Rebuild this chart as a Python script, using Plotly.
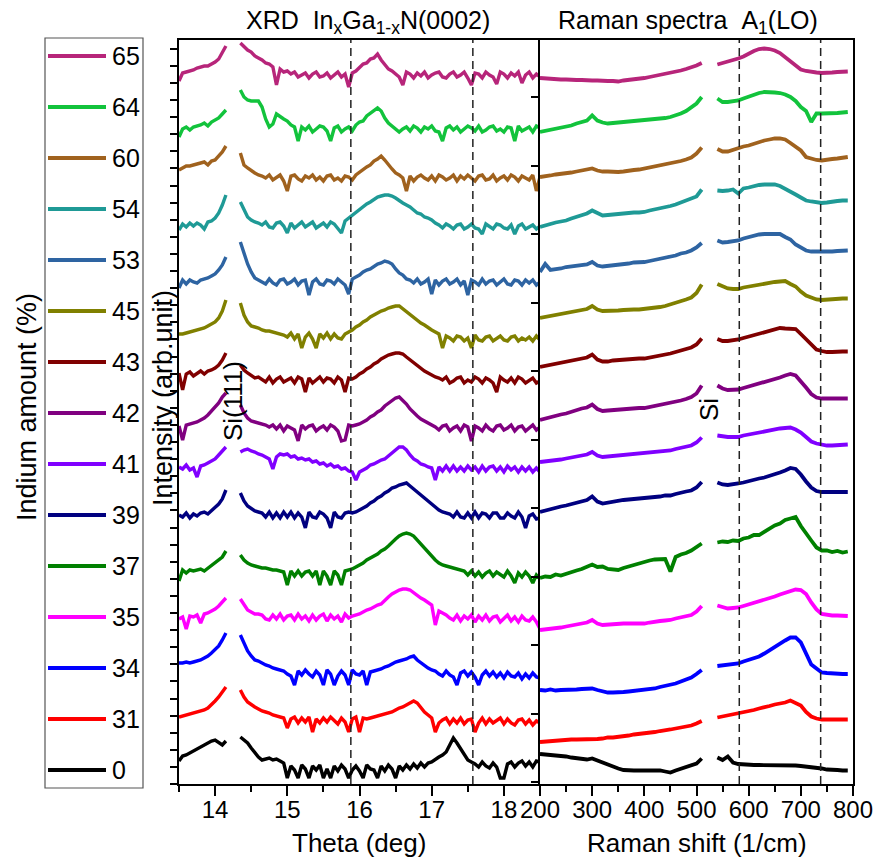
import numpy as np
import plotly.graph_objects as go

FONT = "Liberation Sans, Arial, Helvetica, sans-serif"
W, H = 888, 860

# Indium content of each sample (top to bottom) and its trace colour
indium = ["65", "64", "60", "54", "53", "45", "43", "42", "41", "39", "37", "35", "34", "31", "0"]
colors = ["#B7257A", "#12C33C", "#A0621E", "#1F9A96", "#2E64A2", "#808000", "#800000",
          "#800080", "#8000FF", "#000080", "#008000", "#FF00FF", "#0000FF", "#FF0000", "#000000"]

# Sampling positions: XRD theta (deg), split around the Si(111) substrate peak,
# and Raman shift (1/cm), split around the Si line at 520 1/cm
theta_low = np.round(np.arange(13.50, 14.151, 0.05), 2)
theta_high = np.round(np.arange(14.35, 18.501, 0.05), 2)
shift_low = np.arange(200, 511, 10)
shift_high = np.arange(540, 791, 10)

# Vertical stacking offsets (arb. unit)
xrd_offset = [709, 655, 606, 559, 502, 446, 404, 356, 317, 269, 211, 167, 111, 64, 19]
raman_offset = [706, 652, 607, 557, 512, 466, 417, 364, 322, 272, 206, 154, 94, 42, 30]

# ---------------- XRD intensities (relative to offset) ----------------
xrd_low_65 = [-6, 2, 3, 4, 5, 7, 8, 9, 9, 11, 13, 16, 22, 29]
xrd_high_65 = [32, 28, 25, 23, 19, 17, 15, 12, 11, 8,
               -10, 6, 3, 4, 1, 3, -2, 0, 2, -3,
               1, 3, -2, -1, 2, -3, 0, 3, -2, 1,
               -12, 2, 4, 7, 11, 12, 16, 17, 21, 15,
               11, 6, 4, 1, -2, -10, 3, 1, -3, 2,
               -1, 3, -3, 0, 2, 3, -2, -3, 1, 3,
               -2, 0, 3, -3, -10, 2, 1, -3, 3, 0,
               -2, -9, 3, 1, -3, 2, -1, 3, -8, 0,
               3, -3, 1, -2]

xrd_low_64 = [-8, 0, 2, -1, 2, 3, 4, 6, 3, 7, 9, 11, 15, 19]
xrd_high_64 = [39, 32, 29, 28, 28, 28, 22, 10, 2, 5,
               15, 12, 10, 8, 4, 2, -12, 2, -1, 3,
               -3, 0, 3, 2, -2, -12, 1, 3, -3, 0,
               2, -2, 4, 7, 8, 13, 16, 19, 21, 18,
               11, 6, 3, 1, -3, 0, 2, -2, 3, 1,
               -3, 2, 0, 3, -2, -3, -12, 1, 3, -1,
               2, -3, 0, 3, 1, -2, 3, -3, -1, 2,
               3, -2, 0, -3, 2, 1, -12, 3, -2, 0,
               2, -3, 3, 1]

xrd_low_60 = [8, 10, 12, 12, 13, 14, 15, 16, 13, 17, 18, 22, 26, 32]
xrd_high_60 = [25, 13, 10, 7, 5, 3, 2, 0, 3, -2,
               1, 3, -3, -13, 2, 3, -1, -3, 2, 0,
               3, -2, 1, -3, 2, 3, -2, 0, -3, 2,
               1, -2, 3, 6, 8, 11, 13, 17, 19, 22,
               18, 13, 9, 5, 3, 0, -13, 2, -3, 1,
               3, 0, -2, 2, -3, 3, 1, -2, 0, 3,
               -3, 2, -1, 3, 0, -3, 2, 3, -2, -1,
               3, -3, 0, 2, -2, 3, 1, -3, 2, 0,
               -2, 3, -13, 1]

xrd_low_54 = [-5, 1, -2, 2, -1, 2, 0, -4, 3, 4, 7, 12, 20, 30]
xrd_high_54 = [23, 15, 8, 5, 3, 2, 0, 3, -2, -3,
               2, 3, -1, -8, 2, -3, 0, 3, -2, 1,
               3, -3, 0, 2, -2, 3, 1, -3, -8, 4,
               7, 9, 12, 15, 18, 21, 23, 26, 28, 29,
               30, 30, 29, 27, 24, 22, 20, 18, 15, 12,
               11, 8, 7, 5, 2, 0, -3, 1, -1, -4,
               0, 1, -4, -2, 1, -3, -4, -9, 1, -2,
               -4, 1, 0, -3, -4, 0, -9, -1, 1, -4,
               -2, 0, -4, -1]

xrd_low_53 = [-6, 2, -2, 2, 0, -1, 2, 3, 4, 6, 8, 12, 17, 25]
xrd_high_53 = [40, 28, 18, 10, 4, 2, 0, -2, 3, -1,
               -3, 2, 3, -2, 0, 3, -3, 1, 2, -13,
               0, 3, -2, -3, 2, 1, -2, 3, 0, -3,
               -12, 3, 5, 7, 10, 12, 13, 16, 18, 19,
               21, 20, 18, 13, 9, 7, 3, 2, -1, 3,
               -2, 0, 3, -12, 2, -3, 1, 3, -2, 0,
               3, -3, 1, -13, 2, 0, -3, 3, -2, 1,
               2, -3, 0, 3, -2, -3, 2, 1, -3, 2,
               -1, 2, -3, 0]

xrd_low_45 = [4, 4, 5, 6, 7, 8, 9, 10, 12, 14, 16, 20, 27, 38]
xrd_high_45 = [35, 23, 16, 12, 11, 10, 8, 7, 7, 6,
               5, 4, 3, 1, 5, -1, 4, -10, 1, 5,
               -1, -10, 4, 0, 5, -1, 4, 0, -1, 4,
               6, 8, 11, 13, 16, 18, 21, 23, 25, 27,
               28, 30, 31, 32, 32, 29, 27, 23, 20, 17,
               15, 13, 10, 8, 6, 4, -10, 2, 0, -3,
               2, 1, -3, 0, -10, 3, -2, -3, 1, 2,
               -3, 0, 2, -2, -3, 1, 2, -3, 0, -2,
               1, -3, 2, -2]

xrd_low_43 = [7, -10, 6, 8, 4, 7, 9, 6, 9, 10, 12, 15, 20, 27]
xrd_high_43 = [15, 10, 7, 4, 2, 3, 0, -2, 3, -3,
               1, 3, -2, 0, 2, -3, 3, 1, -12, 2,
               -3, 0, 3, -2, 2, 1, -3, 3, 0, -12,
               2, 1, 3, 6, 8, 11, 13, 16, 18, 21,
               23, 25, 26, 27, 27, 26, 23, 20, 17, 14,
               12, 9, 7, 5, 3, 2, 0, 3, -3, -1,
               2, 3, -3, 0, -2, 3, 1, -3, 2, 0,
               -3, -12, 3, 0, -2, 2, -3, 3, 1, -3,
               0, 2, -3, -1]

xrd_low_42 = [2, -12, 3, 4, 5, 6, 8, 10, 13, 17, 20, 25, 31, 35]
xrd_high_42 = [23, 15, 10, 7, 6, 5, 4, 3, 1, 3,
               -1, 3, -3, 2, 0, -2, -13, 3, -1, 2,
               3, -3, 0, 2, -2, 3, 1, -3, -13, -12,
               3, 2, 3, 4, 6, 8, 11, 13, 16, 18,
               22, 25, 28, 30, 31, 28, 24, 19, 15, 12,
               9, 7, 5, 3, 1, -2, 2, 3, -3, 0,
               2, -3, 3, 1, -13, 2, 0, -3, 3, -1,
               -3, 2, 3, -2, 0, 3, -3, 1, 2, -3,
               0, 3, -2, 1]

xrd_low_41 = [0, -2, 2, -3, -1, -10, 1, 2, 4, 6, 8, 12, 16, 20]
xrd_high_41 = [15, 17, 18, 16, 15, 13, 12, 10, 8, -2,
               10, 13, 12, 13, 10, 11, 8, 9, 7, 8,
               5, 6, 3, 4, 1, 3, 0, 1, -2, -1,
               -4, -5, -13, -5, -3, -1, 2, 3, 5, 7,
               8, 11, 15, 18, 20, 20, 17, 12, 8, 6,
               3, 2, 0, -1, -13, 0, -4, 1, -4, 1,
               -4, 0, -4, 1, -3, 0, -5, 1, -4, 0,
               1, -4, 0, -5, 1, -3, 0, -5, 0, -4,
               0, -5, -1, -5]

xrd_low_39 = [0, -2, 2, -3, 1, -1, 2, 3, 1, 4, 7, 11, 16, 25]
xrd_high_39 = [22, 14, 9, 6, 4, 3, 2, -2, 3, -3,
               2, -3, 3, -2, 3, -3, 2, -2, -13, 3,
               -2, -3, 3, 1, -3, -13, 3, -2, -3, 2,
               3, 2, 3, 5, 7, 9, 12, 14, 17, 19,
               22, 24, 27, 28, 30, 31, 32, 29, 26, 23,
               19, 16, 13, 10, 7, 5, 3, 2, 1, -2,
               3, -2, -3, 2, -3, 3, -3, 2, 1, -3,
               2, 2, -3, -3, 2, -1, -3, 3, -2, -13,
               -1, 1, -4, -3]

xrd_low_37 = [-8, 3, 0, 3, 2, 3, 4, 2, 5, 7, 10, 13, 16, 22]
xrd_high_37 = [18, 13, 10, 8, 7, 6, 5, 5, 4, 3,
               3, 2, 1, -12, 2, -3, 2, -3, 1, 2,
               -3, 2, -12, 2, -3, -12, 2, -2, -12, 2,
               3, 4, 6, 8, 10, 13, 15, 17, 19, 22,
               24, 27, 31, 34, 37, 39, 40, 39, 37, 33,
               29, 25, 21, 16, 13, 10, 8, 7, 6, 5,
               4, 3, 2, -2, 2, -3, 1, -4, 0, 2,
               -3, 1, -2, -4, 2, -3, -10, 0, -4, 1,
               -3, -10, -2, -6]

xrd_low_35 = [-2, 0, -12, 1, 0, 2, -6, 3, 4, 6, 8, 11, 15, 19]
xrd_high_35 = [18, 12, 7, 5, 3, 3, 2, -2, -3, 2,
               -2, 3, -3, 1, 2, -3, 3, -2, 1, -4,
               2, -3, 1, 3, -4, 2, -2, 1, -5, 3,
               -1, 1, 2, 3, 5, 7, 8, 10, 12, 13,
               17, 20, 23, 25, 27, 28, 28, 27, 24, 22,
               19, 17, 14, 12, -8, 6, 4, 2, -1, -3,
               2, -4, 1, -2, 2, -5, 1, -3, 2, -4,
               0, 1, -5, -1, 2, -4, 0, -5, 1, -3,
               -4, 0, -5, -12]

xrd_low_34 = [10, 10, 11, 10, 11, 12, 13, 15, 17, 20, 23, 27, 33, 40]
xrd_high_34 = [38, 30, 22, 17, 13, 12, 10, 8, 7, 5,
               4, 3, 2, -1, -3, -12, 2, -2, 3, -1,
               -4, 2, -2, -12, 3, -1, -12, -3, 2, -2,
               -12, 3, -1, -2, 2, -12, 1, 2, 3, 4,
               6, 7, 9, 11, 12, 13, 14, 16, 17, 13,
               10, 7, 5, 3, 2, -1, -3, 2, -2, -4,
               -12, 0, 2, -3, 1, -4, -12, -2, 2, -3,
               1, -4, 0, -5, 1, -3, -4, 0, -6, -1,
               -5, 0, -4, -5]

xrd_low_31 = [3, 4, 5, 6, 7, 8, 9, 10, 12, 15, 19, 23, 28, 33]
xrd_high_31 = [30, 23, 18, 15, 13, 11, 9, 8, 7, 5,
               4, 3, 2, -8, 1, 3, -3, 2, -2, 3,
               -12, 1, -3, 2, -2, 3, -1, -4, 2, -2,
               -12, 1, 3, -12, 2, 1, 2, 3, 4, 5,
               6, 7, 8, 10, 12, 13, 15, 17, 19, 17,
               12, 8, 5, 2, -12, -3, 0, 2, -4, 1,
               -3, 2, -4, 0, 1, -12, -3, 2, -4, 1,
               -3, 0, 2, -4, 1, -3, -5, 0, 1, -4,
               0, -5, -1, -3]

xrd_low_0 = [4, 9, 10, 12, 14, 16, 18, 20, 22, 24, 25, 22, 20, 24]
xrd_high_0 = [28, 25, 22, 17, 12, 8, 5, 6, 7, 5,
              6, 4, 2, -13, -1, -5, -13, 0, -4, -13,
              -1, -5, 0, -13, -4, -13, -1, -6, 0, -4,
              -13, -5, -1, -6, -13, 0, -4, -5, -13, -1,
              -6, 0, -4, -13, -1, -5, 0, -4, 1, -3,
              2, -2, 2, 3, 6, 8, 10, 13, 20, 27,
              22, 16, 10, 5, 3, 1, -2, 3, -1, -3,
              2, -2, -13, -13, 1, 3, -2, 2, 4, -1,
              3, -2, 4, 3]

# ---------------- Raman intensities (relative to offset) ----------------
raman_low_65 = [0, -0.5, -0.5, -1, -1.5, -1.5, -2, -2, -2, -2.5,
                -2.5, -2.5, -3, -3, -3, -3.5, -2.5, -2, -1.5, -0.5,
                0, 1, 2, 3, 4, 5, 6.5, 7.5, 9, 10.5,
                12.5, 15]
raman_high_65 = [13.5, 15, 16.5, 17.5, 19.5, 21.5, 24.5, 27, 29, 29.5,
                 29, 27.5, 25, 21, 16.5, 12, 8.5, 7, 6, 5.5,
                 5, 5, 5.5, 6, 6.5, 6.5]

raman_low_64 = [0, 1, 2.5, 3.5, 4.5, 5, 6.5, 8.5, 10, 11.5,
                16.5, 11.5, 9.5, 8.5, 9, 9.5, 9.5, 10, 10.5, 11,
                11.5, 12, 12.5, 13.5, 14, 15, 16.5, 18.5, 21, 25,
                28.5, 35]
raman_high_64 = [33.5, 30, 30, 30.5, 31.5, 33.5, 35.5, 37.5, 39, 40,
                 40, 39.5, 39, 37.5, 35, 31, 25, 21, 10, 18.5,
                 18.5, 18.5, 18.5, 19, 19.5, 20]

raman_low_60 = [0, 0.5, 1.5, 2.5, 3, 3.5, 4.5, 5.5, 6.5, 7.5,
                8.5, 6.5, 5.5, 5.5, 5, 5, 5.5, 6.5, 7, 7.5,
                8.5, 9.5, 10.5, 11.5, 12.5, 13.5, 14.5, 16, 17.5, 19.5,
                23.5, 29.5]
raman_high_60 = [28, 25.5, 25.5, 27.5, 29.5, 30.5, 31.5, 33.5, 35, 36.5,
                 37.5, 38.5, 38.5, 37.5, 34, 30, 26.5, 20, 18.5, 17,
                 16.5, 17.5, 18, 18.5, 19.5, 20]

raman_low_54 = [0, 1.5, 3.5, 4.5, 5.5, 6.5, 8.5, 10, 11.5, 13.5,
                16.5, 13.5, 11.5, 12, 12.5, 13.5, 13.5, 14, 14.5, 14.5,
                15, 16.5, 17.5, 19, 20, 21, 22.5, 24.5, 26.5, 28.5,
                30.5, 37.5]
raman_high_54 = [36.5, 36, 36.5, 37.5, 33.5, 38.5, 39.5, 41, 42, 42.5,
                 42.5, 42.5, 41, 38.5, 36, 32.5, 29.5, 26.5, 25.5, 24.5,
                 24, 24.5, 25.5, 26, 26.5, 26.5]

raman_low_53 = [0, 8, 2, 2.5, 3.5, 5, 5.5, 6.5, 7, 7.5,
                10, 6.5, 5.5, 6, 6.5, 7.5, 8, 8.5, 9.5, 9.5,
                10, 11, 12, 13.5, 14.5, 15, 16.5, 18.5, 19.5, 21.5,
                24.5, 29]
raman_high_53 = [31.5, 29.5, 30, 31, 31.5, 33.5, 35, 36.5, 37.5, 38,
                 38, 38.5, 38, 35, 32.5, 27.5, 24, 21.5, 20.5, 20.5,
                 20, 20.5, 20.5, 21, 21.5, 21.5]

raman_low_45 = [0, 1, 2, 3, 4, 5, 6, 7, 8, 9,
                12, 8.5, 7, 7, 7.5, 7.5, 8, 8.5, 8.5, 8.5,
                9, 9.5, 10.5, 11, 12, 13.5, 15, 16.5, 18.5, 20.5,
                25, 33.5]
raman_high_45 = [34, 31.5, 29.5, 29, 29, 30.5, 31.5, 32.5, 33, 34,
                 35, 36, 36.5, 37, 34, 31.5, 26.5, 22.5, 20.5, 18.5,
                 18, 18.5, 18.5, 19, 19.5, 19.5]

raman_low_43 = [0, 1, 2, 3, 4, 5, 6, 7, 8, 9.5,
                12.5, 7.5, 5.5, 5.5, 6.5, 7, 7.5, 7.5, 8, 8.5,
                8.5, 9.5, 10, 11, 12, 13.5, 15, 16.5, 17.5, 19.5,
                22.5, 28.5]
raman_high_43 = [28, 26, 26, 26.5, 27.5, 29, 30.5, 31.5, 33.5, 35,
                 36.5, 38, 39, 38.5, 38.5, 38, 33, 27.5, 22.5, 17.5,
                 16, 15, 15, 15.5, 15.5, 15.5]

raman_low_42 = [0, 1.5, 2.5, 4, 5.5, 6.5, 8.5, 10, 11.5, 12.5,
                15.5, 11, 9, 9.5, 10, 10.5, 11, 11.5, 11.5, 12,
                12, 13, 14.5, 15.5, 16.5, 17.5, 18.5, 19.5, 21, 23,
                26.5, 34.5]
raman_high_42 = [34.5, 31.5, 30, 30, 30.5, 32, 33.5, 35, 36.5, 38,
                 39.5, 40.5, 42.5, 44.5, 46, 44.5, 39, 32.5, 26, 22.5,
                 21.5, 21.5, 21.5, 21.5, 21.5, 21.5]

raman_low_41 = [0, 0.5, 1.5, 2, 2.5, 3.5, 4.5, 5.5, 6.5, 7.5,
                10, 6.5, 5, 5.5, 6, 6.5, 7, 7.5, 7.5, 8,
                8.5, 9, 9.5, 10.5, 11, 11.5, 13, 14, 15, 16.5,
                19.5, 24.5]
raman_high_41 = [26.5, 25.5, 25, 25, 25, 26.5, 27.5, 29, 30, 31,
                 31.5, 32.5, 33.5, 34, 34.5, 32.5, 29.5, 25, 20.5, 18.5,
                 17.5, 16.5, 16.5, 17, 17.5, 17.5]

raman_low_39 = [0, 1.5, 2.5, 4, 5.5, 6.5, 8, 9.5, 10.5, 12,
                15.5, 10.5, 8.5, 9.5, 10.5, 11.5, 12, 12.5, 13, 13.5,
                13.5, 14, 14.5, 15.5, 16.5, 16.5, 18, 19.5, 20.5, 21.5,
                24.5, 30]
raman_high_39 = [29.5, 27.5, 27, 27.5, 28.5, 29.5, 31, 32, 33.5, 34.5,
                 36, 37.5, 39.5, 41.5, 44, 43, 37.5, 30.5, 24.5, 21,
                 20, 20, 20, 20, 20, 20]

raman_low_37 = [0, 1.5, 1, 3.5, 2.5, 4.5, 5.5, 7.5, 9, 11,
                13.5, 11, 11.5, 9, 8.5, 8, 10, 11.5, 13.5, 14.5,
                16, 17.5, 18.5, 18.5, 19, 6.5, 21, 23.5, 25, 27.5,
                31, 34.5]
raman_high_37 = [35.5, 36.5, 36, 37.5, 37, 39.5, 40.5, 43, 43, 46.5,
                 49, 52.5, 54.5, 58, 59.5, 61, 52, 44, 37.5, 30.5,
                 27.5, 27.5, 26, 27, 25.5, 26.5]

raman_low_35 = [0, 0.5, 1.5, 2, 2.5, 3.5, 4.5, 5.5, 6.5, 7.5,
                10, 6.5, 5, 5.5, 5.5, 6, 6.5, 6.5, 6.5, 6.5,
                6.5, 7.5, 8.5, 9, 9.5, 10, 11.5, 12.5, 13.5, 15,
                18.5, 24]
raman_high_35 = [24.5, 22.5, 21.5, 22, 22.5, 24, 25.5, 27, 28.5, 30,
                 32, 33.5, 35.5, 37, 39, 40.5, 40, 36, 27.5, 20.5,
                 16, 15, 14.5, 14.5, 14, 14]

raman_low_34 = [0, -0.5, 0.5, -0.5, 0, 0, 0.5, 0.5, 1, 1.5,
                1.5, 0, -1.5, -2.5, -2.5, -2.5, -2, -1.5, -1, -0.5,
                0, 0.5, 1.5, 3, 4, 5, 6.5, 8.5, 10.5, 12.5,
                16, 20]
raman_high_34 = [24, 24.5, 25.5, 25.5, 26.5, 28.5, 30, 31.5, 33.5, 36.5,
                 40, 43.5, 46.5, 49.5, 52.5, 52.5, 47.5, 36.5, 25.5, 21.5,
                 17.5, 17, 16.5, 16.5, 16, 16]

raman_low_31 = [0, 0.5, 1, 1.5, 2, 2.5, 2.5, 2.5, 2.5, 2.5,
                2.5, 3, 3.5, 4.5, 4.5, 5, 5.5, 6.5, 7.5, 8,
                8.5, 9, 10, 11, 11.5, 12.5, 13.5, 14.5, 15.5, 16.5,
                18.5, 21]
raman_high_31 = [24.5, 25.5, 26.5, 27.5, 29, 30, 31, 32, 33.5, 34.5,
                 36, 37.5, 38.5, 39.5, 41.5, 39.5, 36.5, 30, 25.5, 23.5,
                 22.5, 22.5, 22.5, 22.5, 22.5, 22.5]

raman_low_0 = [0, -0.5, -0.5, -1.5, -2, -2.5, -3.5, -4, -4.5, -5.5,
               -4.5, -6.5, -9.5, -11.5, -13.5, -14.5, -16, -16.5, -16.5, -16.5,
               -16.5, -16.5, -16, -16.5, -17.5, -18.5, -16.5, -14.5, -12.5, -11,
               -9.5, -4.5]
raman_high_0 = [-3.5, -6, -2.5, -8.5, -10, -10.5, -11, -11, -11, -11,
                -11, -11, -11, -11, -11, -11.5, -12, -12.5, -13.5, -14,
                -14.5, -15.5, -15.5, -16, -16.5, -16.5]

xrd_sets = [(xrd_low_65, xrd_high_65), (xrd_low_64, xrd_high_64), (xrd_low_60, xrd_high_60),
            (xrd_low_54, xrd_high_54), (xrd_low_53, xrd_high_53), (xrd_low_45, xrd_high_45),
            (xrd_low_43, xrd_high_43), (xrd_low_42, xrd_high_42), (xrd_low_41, xrd_high_41),
            (xrd_low_39, xrd_high_39), (xrd_low_37, xrd_high_37), (xrd_low_35, xrd_high_35),
            (xrd_low_34, xrd_high_34), (xrd_low_31, xrd_high_31), (xrd_low_0, xrd_high_0)]
raman_sets = [(raman_low_65, raman_high_65), (raman_low_64, raman_high_64), (raman_low_60, raman_high_60),
              (raman_low_54, raman_high_54), (raman_low_53, raman_high_53), (raman_low_45, raman_high_45),
              (raman_low_43, raman_high_43), (raman_low_42, raman_high_42), (raman_low_41, raman_high_41),
              (raman_low_39, raman_high_39), (raman_low_37, raman_high_37), (raman_low_35, raman_high_35),
              (raman_low_34, raman_high_34), (raman_low_31, raman_high_31), (raman_low_0, raman_high_0)]

# Reference positions marked with dashed lines
xrd_marks = [15.88, 17.57]
raman_marks = [582, 738]


def px(x):
    return x / W


def py(y):
    return 1 - y / H


fig = go.Figure()

for k, lab in enumerate(indium):
    lo, hi = xrd_sets[k]
    assert len(lo) == len(theta_low) and len(hi) == len(theta_high), lab
    xs = list(theta_low) + [None] + list(theta_high)
    ys = [xrd_offset[k] + v for v in lo] + [None] + [xrd_offset[k] + v for v in hi]
    fig.add_trace(go.Scatter(x=xs, y=ys, mode="lines", xaxis="x", yaxis="y",
                             line=dict(color=colors[k], width=3.4), showlegend=False,
                             name=lab + " %"))

    lo, hi = raman_sets[k]
    assert len(lo) == len(shift_low) and len(hi) == len(shift_high), lab
    xs = list(shift_low) + [None] + list(shift_high)
    ys = [raman_offset[k] + v for v in lo] + [None] + [raman_offset[k] + v for v in hi]
    fig.add_trace(go.Scatter(x=xs, y=ys, mode="lines", xaxis="x2", yaxis="y2",
                             line=dict(color=colors[k], width=3.8), showlegend=False,
                             name=lab + " %"))

shapes = []
for m in xrd_marks:
    shapes.append(dict(type="line", xref="x", yref="y", x0=m, x1=m, y0=0, y1=744,
                       line=dict(color="#222222", width=1.5, dash="8px,5px")))
for m in raman_marks:
    shapes.append(dict(type="line", xref="x2", yref="y2", x0=m, x1=m, y0=0, y1=744,
                       line=dict(color="#222222", width=1.5, dash="8px,5px")))

# Sample legend drawn as a framed column of line swatches
shapes.append(dict(type="rect", xref="paper", yref="paper",
                   x0=px(45), x1=px(143), y0=py(788), y1=py(38),
                   line=dict(color="#555555", width=1.2), fillcolor="rgba(0,0,0,0)"))
annotations = []
for k, lab in enumerate(indium):
    yk = 56 + 51 * k
    shapes.append(dict(type="line", xref="paper", yref="paper",
                       x0=px(48), x1=px(106), y0=py(yk), y1=py(yk),
                       line=dict(color=colors[k], width=4)))
    annotations.append(dict(x=px(110), y=py(yk), xref="paper", yref="paper", text=lab,
                            showarrow=False, xanchor="left", yanchor="middle",
                            font=dict(size=25, color="black", family=FONT)))

text_items = [
    ("XRD\u00a0\u00a0In<sub>x</sub>Ga<sub>1-x</sub>N(0002)", 368, 22, 0, 25),
    ("Raman spectra\u00a0\u00a0A<sub>1</sub>(LO)", 688, 22, 0, 25),
    ("Theta (deg)", 359, 843, 0, 26),
    ("Raman shift (1/cm)", 697, 843, 0, 26),
    ("Intensity (arb.unit)", 163, 398, -90, 27),
    ("Indium amount (%)", 27, 407, -90, 27),
    ("Si(111)", 233, 401, -90, 26),
    ("Si", 709, 410, -90, 26),
]
for txt, x, y, ang, size in text_items:
    annotations.append(dict(x=px(x), y=py(y), xref="paper", yref="paper", text=txt,
                            showarrow=False, xanchor="center", yanchor="middle",
                            textangle=ang, font=dict(size=size, color="black", family=FONT)))

ydom = [py(784), py(40)]
common_x = dict(showline=True, linecolor="black", linewidth=2, mirror=True,
                ticks="outside", ticklen=10, tickwidth=1.5, tickcolor="black",
                showgrid=False, zeroline=False, automargin=False, ticklabelstandoff=-7,
                tickfont=dict(size=24, family=FONT, color="black"))
common_y = dict(range=[0, 744], domain=ydom, showline=True, linecolor="black", linewidth=2,
                ticks="outside", ticklen=7, tickwidth=1.5, tickcolor="black",
                showticklabels=False, showgrid=False, zeroline=False, automargin=False)

fig.update_layout(
    template="none",
    width=W, height=H, margin=dict(l=0, r=0, t=0, b=0, pad=0), autosize=False,
    paper_bgcolor="white", plot_bgcolor="white",
    font=dict(family=FONT, size=24, color="black"),
    showlegend=False,
    xaxis=dict(domain=[px(179), px(540)], range=[13.5, 18.5], anchor="y",
               tick0=14, dtick=1,
               minor=dict(ticks="outside", ticklen=6, tickwidth=1.5, tickcolor="black",
                          tick0=13.5, dtick=0.5, showgrid=False),
               **common_x),
    xaxis2=dict(domain=[px(540), px(853)], range=[200, 800], anchor="y2",
                tick0=200, dtick=100,
                minor=dict(ticks="outside", ticklen=6, tickwidth=1.5, tickcolor="black",
                           tick0=200, dtick=50, showgrid=False),
                **common_x),
    yaxis=dict(anchor="x", tick0=0, dtick=17.1, **common_y),
    yaxis2=dict(anchor="x2", mirror=True, tick0=2, dtick=68.5, **common_y),
    shapes=shapes,
    annotations=annotations,
)

fig.write_html("out.html")
